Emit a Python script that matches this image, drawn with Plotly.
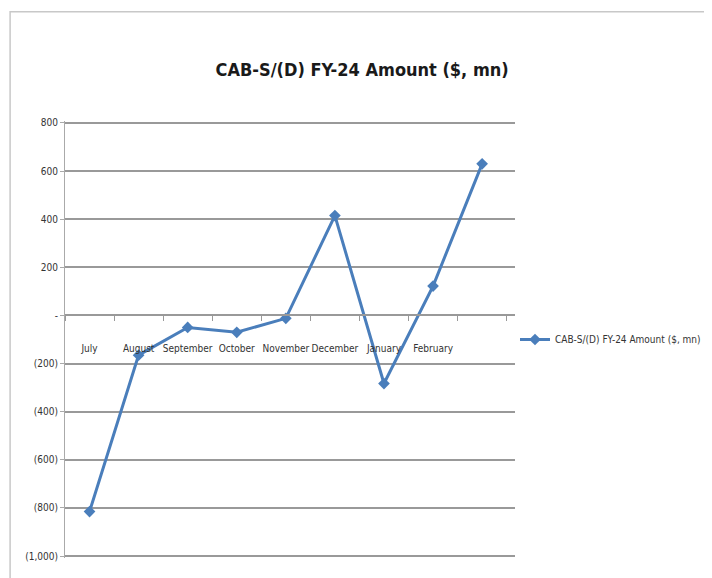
import plotly.graph_objects as go

# monthly current account balance, FY-24 ($ mn)
months = ["July", "August", "September", "October", "November",
          "December", "January", "February", "March"]
month_labels = ["July", "August", "September", "October", "November",
                "December", "January", "February", ""]
amounts = [-815, -165, -50, -70, -12, 415, -283, 122, 630]

y_ticks = [800, 600, 400, 200, 0, -200, -400, -600, -800, -1000]
y_tick_labels = ["800", "600", "400", "200", "-", "(200)", "(400)",
                 "(600)", "(800)", "(1,000)"]

series_name = "CAB-S/(D) FY-24 Amount ($, mn)"
blue = "#4a7ebb"
narrow = "DejaVu Sans Condensed, Liberation Sans Narrow, sans-serif"

fig = go.Figure()
fig.add_trace(go.Scatter(
    x=months, y=amounts, name=series_name, mode="lines+markers",
    line=dict(color=blue, width=3),
    marker=dict(symbol="diamond", size=9, color=blue),
))

# a little padding so the 800 and (1,000) gridlines are drawn
y_min, y_max = -1008, 808
fig.update_layout(
    width=704, height=570,
    margin=dict(l=57, r=197, t=113, b=20, autoexpand=False),
    paper_bgcolor="white", plot_bgcolor="white",
    title=dict(text="<b>" + series_name + "</b>", x=0.503, xanchor="center",
               y=0.892, yanchor="middle",
               font=dict(family=narrow, size=18, color="#1a1a1a")),
    font=dict(family=narrow, size=10, color="#333"),
    showlegend=True,
    legend=dict(x=1.0, y=0.5, xanchor="left", yanchor="middle",
                itemwidth=30,
                font=dict(family=narrow, size=10, color="#333"),
                bgcolor="rgba(0,0,0,0)"),
    xaxis=dict(
        type="category", categoryorder="array", categoryarray=months,
        tickvals=months, ticktext=month_labels, tickangle=0,
        anchor="free", position=(0 - y_min) / (y_max - y_min),
        showline=True, linecolor="#999", linewidth=1.5,
        tickson="boundaries", ticks="outside", ticklen=5, tickcolor="#999",
        ticklabelstandoff=24, showgrid=False, zeroline=False,
        tickfont=dict(family=narrow, size=10, color="#333"),
        range=[-0.5, len(months) - 0.33],
    ),
    yaxis=dict(
        range=[y_min, y_max], tickvals=y_ticks, ticktext=y_tick_labels,
        showgrid=True, gridcolor="#999", gridwidth=1.5,
        showline=True, linecolor="#aaa", linewidth=1,
        ticks="outside", ticklen=4, tickcolor="#aaa",
        zeroline=False, tickfont=dict(family=narrow, size=10, color="#333"),
    ),
)

# outer chart border
fig.add_shape(type="rect", xref="paper", yref="paper",
              x0=-0.122, x1=1.436, y0=-0.1, y1=1.25,
              line=dict(color="#c8c8c8", width=1.5), layer="below")

fig.write_html("out.html")
